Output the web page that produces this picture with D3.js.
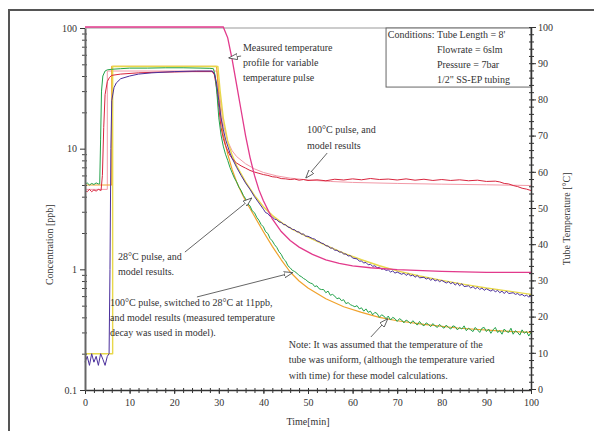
<!DOCTYPE html>
<html lang="en">
<head>
<meta charset="UTF-8">
<title>Concentration and tube temperature vs time</title>
<style>
  html, body { margin: 0; padding: 0; background: #fff; }
  svg { display: block; }
  text { font-family: "Liberation Serif", "DejaVu Serif", serif; fill: #333; }
</style>
</head>
<body>
<div id="chart"></div>
<script src="https://d3js.org/d3.v7.min.js"></script>
<script>

// ---- data: [time min, value] ----
// measured tube temperature for the variable pulse (right axis, degC)
const tempProfile = [[0,100],[31,100],[32,97],[33,91],[34,84],[35,77],[36,70],[37,64],[38,59],[39,55],[40,52],[42,47],[44,43.5],[46,41],[48,39.2],[51,37.2],[54,35.7],[57,34.7],[60,34],[64,33.5],[70,33],[80,32.5],[90,32.2],[100,32.2]];

// 100C pulse, measured and model (ppb)
const hot100Meas = [[0,4.5],[0.5,4.4],[1,4.6],[1.5,4.4],[2,4.55],[2.5,4.45],[3,4.6],[3.6,4.5],[3.9,6],[4.2,15],[4.5,28],[5,36],[5.5,39],[6,40.5],[8,41.5],[12,42.5],[16,43],[20,43.2],[24,43.5],[28.5,43.5],[29,41],[29.5,32],[30,22],[30.5,15],[31,12.2],[31.5,10.6],[32,9.6],[32.5,8.8],[33,8.3],[33.5,7.9],[34,7.6],[35,7.2],[36,6.9],[37,6.6],[38,6.4],[39,6.25],[40,6.1],[41,6.0],[42,5.85],[43,5.8],[44,5.65],[45,5.62],[46,5.55],[47,5.6],[48,5.48],[49,5.55],[50,5.45],[52,5.52],[54,5.42],[56,5.58],[58,5.5],[60,5.62],[62,5.52],[64,5.66],[66,5.55],[68,5.6],[70,5.5],[72,5.62],[74,5.48],[76,5.58],[78,5.45],[80,5.55],[82,5.45],[84,5.52],[86,5.42],[88,5.48],[90,5.35],[92,5.38],[93,5.3],[94,5.15],[95,5.1],[96,4.95],[97,4.85],[98,4.7],[99,4.62],[100,4.5]];
const hot100Model = [[0,4.6],[5,4.6],[5,44],[29.6,44],[30.2,28],[31,16],[32,11.5],[33,9.6],[34,8.6],[36,7.5],[38,6.8],[40,6.35],[43,5.95],[46,5.7],[50,5.5],[55,5.35],[60,5.25],[70,5.15],[80,5.08],[90,5.02],[100,4.95]];

// 28C pulse, measured and model (ppb)
const cold28Meas = [[0,0.17],[0.5,0.19],[1,0.16],[1.5,0.2],[2,0.17],[2.5,0.19],[3,0.16],[3.5,0.2],[4,0.18],[4.5,0.16],[5,0.19],[5.4,0.2],[5.6,1],[5.8,10],[6,25],[6.5,32],[7,35],[8,38],[10,40],[12,41.5],[15,42.5],[20,43.5],[25,44],[28.5,44],[29,42],[29.5,35],[30,25],[30.5,18],[31,14.5],[31.5,12],[32,10.5],[32.5,9.2],[33,8.3],[34,7],[35,6],[36,5.2],[37,4.6],[38,4],[39,3.55],[40,3.15],[40.5,2.95],[41,2.9],[41.5,2.75],[42,2.72],[42.5,2.6],[43,2.58],[43.5,2.47],[44,2.45],[44.5,2.35],[45,2.34],[45.5,2.24],[46,2.22],[46.5,2.14],[47,2.13],[47.5,2.05],[48,2.04],[48.5,1.96],[49,1.96],[49.5,1.88],[50,1.88],[51,1.8],[51.5,1.78],[52,1.72],[52.5,1.7],[53,1.65],[53.5,1.63],[54,1.57],[54.5,1.56],[55,1.5],[55.5,1.5],[56,1.44],[56.5,1.44],[57,1.39],[57.5,1.39],[58,1.34],[58.5,1.34],[59,1.29],[59.5,1.3],[60,1.24],[61,1.22],[61.5,1.17],[62,1.17],[62.5,1.13],[63,1.14],[63.5,1.09],[64,1.1],[64.5,1.06],[65,1.07],[65.5,1.03],[66,1.04],[66.5,1.0],[67,1.01],[67.5,0.98],[68,0.99],[68.5,0.95],[69,0.97],[69.5,0.93],[70,0.95],[71,0.91],[71.5,0.93],[72,0.89],[72.5,0.92],[73,0.88],[73.5,0.9],[74,0.86],[74.5,0.89],[75,0.85],[76,0.86],[76.5,0.83],[77,0.85],[77.5,0.81],[78,0.84],[78.5,0.8],[79,0.82],[79.5,0.79],[80,0.81],[81,0.77],[81.5,0.79],[82,0.76],[82.5,0.78],[83,0.74],[83.5,0.77],[84,0.73],[84.5,0.76],[85,0.72],[86,0.73],[86.5,0.7],[87,0.72],[87.5,0.69],[88,0.71],[88.5,0.68],[89,0.7],[89.5,0.67],[90,0.69],[91,0.66],[91.5,0.68],[92,0.65],[92.5,0.67],[93,0.64],[93.5,0.66],[94,0.63],[94.5,0.66],[95,0.63],[96,0.64],[96.5,0.62],[97,0.63],[97.5,0.61],[98,0.62],[98.5,0.6],[99,0.61],[99.5,0.59],[100,0.6]];
const cold28Model = [[0,0.2],[6.2,0.2],[6.2,48],[29.8,48],[30.3,30],[31,18],[32,11.5],[33,8.8],[34,7.2],[36,5.3],[38,4.1],[40,3.3],[42,2.8],[44,2.45],[46,2.2],[50,1.85],[54,1.58],[58,1.36],[62,1.2],[66,1.07],[70,0.97],[75,0.88],[80,0.81],[85,0.75],[90,0.7],[95,0.66],[100,0.62]];

// 100C pulse switched to 28C at 11 ppb, measured and model (ppb)
const switchMeas = [[0,5.1],[0.5,5.2],[1,5.0],[1.5,5.15],[2,5.05],[2.5,5.2],[3,5.1],[3.3,5.1],[3.5,12],[3.7,30],[4,40],[4.5,44],[5,45],[6,45.5],[8,46],[10,46.5],[14,46.5],[18,46.8],[22,46.8],[26,46.5],[28,46.3],[28.8,46],[29.2,40],[29.6,28],[30,18],[30.5,13],[31,10.5],[31.5,9],[32,8],[32.5,7],[33,6.3],[33.5,5.7],[34,5.3],[34.5,4.8],[35,4.5],[35.5,4.1],[36,3.85],[36.5,3.5],[37,3.35],[37.5,3.05],[38,2.95],[38.5,2.7],[39,2.55],[39.5,2.35],[40,2.25],[40.5,2.05],[41,1.98],[41.5,1.8],[42,1.72],[42.5,1.6],[43,1.52],[43.5,1.4],[44,1.33],[44.5,1.22],[45,1.17],[45.5,1.07],[46,1.03],[46.5,0.98],[47,0.96],[47.5,0.93],[48,0.89],[48.5,0.87],[49,0.84],[49.5,0.82],[50,0.79],[50.5,0.77],[51,0.76],[51.5,0.72],[52,0.73],[52.5,0.69],[53,0.68],[53.5,0.68],[54,0.64],[54.5,0.66],[55,0.61],[55.5,0.62],[56,0.6],[56.5,0.57],[57,0.58],[57.5,0.55],[58,0.56],[58.5,0.52],[59,0.53],[59.5,0.51],[60,0.5],[60.5,0.49],[61,0.5],[61.5,0.47],[62,0.48],[62.5,0.45],[63,0.47],[63.5,0.44],[64,0.45],[64.5,0.42],[65,0.44],[65.5,0.43],[66,0.4],[66.5,0.42],[67,0.41],[67.5,0.39],[68,0.41],[68.5,0.38],[69,0.4],[69.5,0.39],[70,0.37],[70.5,0.39],[71,0.38],[71.5,0.36],[72,0.38],[72.5,0.37],[73,0.355],[73.5,0.375],[74,0.36],[74.5,0.345],[75,0.37],[75.5,0.35],[76,0.34],[76.5,0.36],[77,0.35],[77.5,0.335],[78,0.355],[78.5,0.34],[79,0.33],[79.5,0.35],[80,0.335],[80.5,0.325],[81,0.345],[81.5,0.33],[82,0.32],[82.5,0.34],[83,0.335],[83.5,0.315],[84,0.33],[84.5,0.32],[85,0.34],[85.5,0.31],[86,0.325],[86.5,0.315],[87,0.305],[87.5,0.33],[88,0.315],[88.5,0.3],[89,0.325],[89.5,0.33],[90,0.305],[90.5,0.32],[91,0.295],[91.5,0.315],[92,0.33],[92.5,0.3],[93,0.31],[93.5,0.29],[94,0.32],[94.5,0.305],[95,0.3],[95.5,0.325],[96,0.29],[96.5,0.31],[97,0.3],[97.5,0.285],[98,0.315],[98.5,0.295],[99,0.305],[99.5,0.28],[100,0.3]];
const switchModel = [[0,5.0],[6,5.0],[6,48],[29.5,48],[30,28],[30.5,18],[31,13],[32,9],[33,6.7],[34,5.3],[35,4.4],[36,3.7],[38,2.75],[40,2.05],[42,1.55],[44,1.2],[46,0.95],[48,0.8],[50,0.7],[54,0.57],[58,0.49],[62,0.44],[66,0.4],[70,0.375],[76,0.35],[84,0.325],[92,0.31],[100,0.3]];

// ticks
const xTicks = [0,10,20,30,40,50,60,70,80,90,100];
const yTicks = [0.1,1,10,100];
const yrTicks = [0,10,20,30,40,50,60,70,80,90,100];

const conditions = ["Tube Length = 8'", "Flowrate = 6slm", "Pressure = 7bar", "1/2\" SS-EP tubing"];

// ---- layout ----
const W = 594, H = 431;
const plot = { left: 85, right: 531, top: 28, bottom: 390 };

const svg = d3.select("#chart").append("svg")
  .attr("width", W).attr("height", H);

// page frame (only left/top edges fall inside the picture)
svg.append("rect")
  .attr("x", 9).attr("y", 10).attr("width", 620).attr("height", 460)
  .attr("fill", "none").attr("stroke", "#555").attr("stroke-width", 2);

const x = d3.scaleLinear().domain([0, 100]).range([plot.left, plot.right]);
const y = d3.scaleLog().domain([0.1, 100]).range([plot.bottom, plot.top]);
const yr = d3.scaleLinear().domain([0, 100]).range([plot.bottom - 1, plot.top - 1]);

// top frame line
svg.append("line")
  .attr("x1", plot.left).attr("x2", plot.right)
  .attr("y1", plot.top).attr("y2", plot.top)
  .attr("stroke", "#999").attr("stroke-width", 1.2);

// conditions box
svg.append("rect")
  .attr("x", x(67.5)).attr("y", y(100))
  .attr("width", x(100) - x(67.5)).attr("height", y(32.4) - y(100))
  .attr("fill", "#fff").attr("stroke", "#666").attr("stroke-width", 1);
const cond = svg.append("g").attr("font-size", 10);
cond.append("text").attr("x", x(67.9)).attr("y", plot.top + 9.5).text("Conditions:");
conditions.forEach((s, i) => {
  cond.append("text").attr("x", x(78.9)).attr("y", plot.top + 9.5 + i * 15.3).text(s);
});

// ---- curves ----
const line = d3.line().x(d => x(d[0])).y(d => y(d[1]));
const lineT = d3.line().x(d => x(d[0])).y(d => yr(d[1]));

const curves = [
  { data: hot100Model, color: "#f29aa8", w: 1 },
  { data: switchModel, color: "#f0a22c", w: 1.2 },
  { data: cold28Model, color: "#e8d84a", w: 1.4 },
  { data: hot100Meas, color: "#d8253e", w: 1 },
  { data: switchMeas, color: "#22a24a", w: 1 },
  { data: cold28Meas, color: "#4b2f9c", w: 1 }
];
curves.forEach(c => {
  svg.append("path")
    .attr("d", line(c.data))
    .attr("fill", "none").attr("stroke", c.color)
    .attr("stroke-width", c.w).attr("stroke-linejoin", "round");
});

svg.append("path")
  .attr("d", lineT(tempProfile))
  .attr("fill", "none").attr("stroke", "#e23a8c").attr("stroke-width", 1.3);

// ---- axes ----
function styleAxis(g) {
  g.attr("font-family", "Liberation Serif, serif").attr("font-size", 10);
  g.selectAll("text").attr("fill", "#333");
  g.selectAll("line").attr("stroke", "#333");
  g.select(".domain").attr("stroke", "#333");
}

const minorX = d3.range(0, 101, 2);
svg.append("g")
  .attr("transform", `translate(0,${plot.bottom})`)
  .call(d3.axisBottom(x).tickValues(minorX).tickSize(3).tickFormat(""))
  .call(g => g.select(".domain").remove())
  .call(g => g.selectAll("line").attr("y1", -2).attr("stroke", "#333"));
svg.append("g")
  .attr("transform", `translate(0,${plot.bottom})`)
  .call(d3.axisBottom(x).tickValues(xTicks).tickSize(4).tickSizeOuter(0).tickPadding(5).tickFormat(d3.format("d")))
  .call(styleAxis)
  .call(g => g.select(".domain").attr("stroke-width", 1.5));

const minorY = [];
[0.1, 1, 10].forEach(b => { for (let k = 2; k <= 9; k++) minorY.push(b * k); });
svg.append("g")
  .attr("transform", `translate(${plot.left},0)`)
  .call(d3.axisLeft(y).tickValues(minorY).tickSize(3).tickFormat(""))
  .call(g => g.select(".domain").remove())
  .call(g => g.selectAll("line").attr("x1", 2).attr("stroke", "#444"));
svg.append("g")
  .attr("transform", `translate(${plot.left},0)`)
  .call(d3.axisLeft(y).tickValues(yTicks).tickSize(5).tickSizeOuter(0).tickPadding(3).tickFormat(d => String(d)))
  .call(styleAxis)
  .call(g => g.select(".domain").attr("stroke", "#666").attr("stroke-width", 2));

const minorR = d3.range(0, 101, 2);
svg.append("g")
  .attr("transform", `translate(${plot.right},0)`)
  .call(d3.axisRight(yr).tickValues(minorR).tickSize(3).tickFormat(""))
  .call(g => g.select(".domain").remove())
  .call(g => g.selectAll("line").attr("x1", -2).attr("stroke", "#333"));
svg.append("g")
  .attr("transform", `translate(${plot.right},0)`)
  .call(d3.axisRight(yr).tickValues(yrTicks).tickSize(5).tickSizeOuter(0).tickPadding(2).tickFormat(d3.format("d")))
  .call(styleAxis)
  .call(g => g.select(".domain").attr("stroke-width", 1.5));

// axis titles
svg.append("text")
  .attr("transform", `translate(53,${y(1.6)}) rotate(-90)`)
  .attr("text-anchor", "middle").attr("font-size", 10)
  .text("Concentration [ppb]");
svg.append("text")
  .attr("transform", `translate(570,${yr(47)}) rotate(-90)`)
  .attr("text-anchor", "middle").attr("font-size", 10)
  .text("Tube Temperature [\u00B0C]");
svg.append("text")
  .attr("x", x(50)).attr("y", 425)
  .attr("text-anchor", "middle").attr("font-size", 10)
  .text("Time[min]");

// ---- annotations (positions in data units) ----
const notes = [
  { t: 35.4, c: 65, lh: 15, lines: ["Measured temperature", "profile for variable", "temperature pulse"],
    from: [35.0, 58.6], to: [32.2, 56.4] },
  { t: 49.8, c: 13.5, lh: 16, lines: ["100\u00B0C pulse, and", "model results"],
    from: [54.3, 9.2], to: [49.5, 5.7] },
  { t: 7.4, c: 1.2, lh: 15, lines: ["28\u00B0C pulse, and", "model results."],
    from: [22.4, 1.39], to: [37.4, 3.9] },
  { t: 5.6, c: 0.497, lh: 15, lines: ["100\u00B0C pulse, switched to 28\u00B0C at 11ppb,", "and model results (measured temperature", "decay was used in model)."],
    from: [25.1, 0.59], to: [46.6, 0.94] },
  { t: 45.7, c: 0.223, lh: 15.5, lines: ["Note:  It was assumed that the temperature of the", "tube was uniform, (although the temperature varied", "with time) for these model calculations."],
    from: [64.1, 0.275], to: [67.9, 0.39] }
];

svg.append("defs").append("marker")
  .attr("id", "head").attr("viewBox", "0 0 10 8")
  .attr("refX", 10).attr("refY", 4)
  .attr("markerWidth", 9).attr("markerHeight", 7)
  .attr("markerUnits", "userSpaceOnUse")
  .attr("orient", "auto")
  .append("path").attr("d", "M0,0.5 L10,4 L0,7.5 Z")
  .attr("fill", "#fff").attr("stroke", "#555").attr("stroke-width", 1);

const ann = svg.append("g").attr("font-size", 10);
notes.forEach(n => {
  n.lines.forEach((s, i) => {
    ann.append("text")
      .attr("x", x(n.t)).attr("y", y(n.c) + i * n.lh)
      .text(s);
  });
  ann.append("line")
    .attr("x1", x(n.from[0])).attr("y1", y(n.from[1]))
    .attr("x2", x(n.to[0])).attr("y2", y(n.to[1]))
    .attr("stroke", "#666").attr("stroke-width", 1)
    .attr("marker-end", "url(#head)");
});

</script>
</body>
</html>
